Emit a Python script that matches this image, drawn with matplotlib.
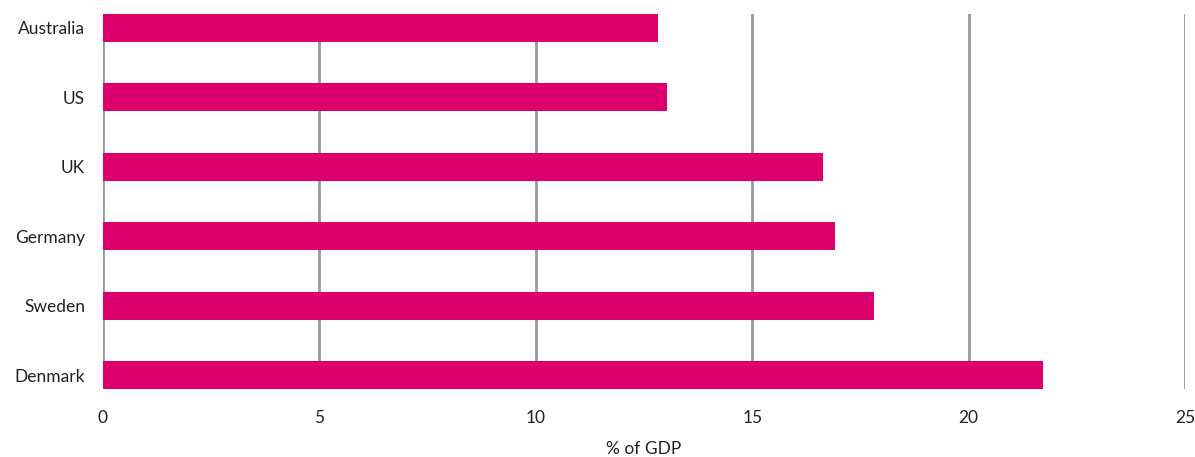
import matplotlib.pyplot as plt

paises = ["Australia", "US", "UK", "Germany", "Sweden", "Denmark"]
valores = [12.82, 13.03, 16.63, 16.92, 17.81, 21.73]
ticks_x = [0, 5, 10, 15, 20, 25]

plt.rcParams['font.family'] = ['Lato', 'DejaVu Sans']

fig = plt.figure(figsize=(11.95, 4.57), dpi=100)
ax = fig.add_axes([103/1195, 1-389/457, 1082/1195, 375/457])

ax.barh(range(len(paises)), valores, height=0.4, color='#dc006e', zorder=3)
ax.set_yticks(range(len(paises)))
ax.set_yticklabels(paises, fontsize=12.5, color='#222222')
ax.set_ylim(len(paises) - 0.8, -0.2)
ax.set_xlim(0, 25)
ax.set_xticks(ticks_x)
ax.tick_params(axis='x', length=0, pad=15, labelsize=12.5, labelcolor='#222222')
ax.tick_params(axis='y', length=0, pad=13)
ax.grid(axis='x', color='#999999', linewidth=2, zorder=0)
ax.set_xlabel('% of GDP', fontsize=12.5, color='#222222', labelpad=11)
for s in ax.spines.values():
    s.set_visible(False)

plt.savefig('out.png')
